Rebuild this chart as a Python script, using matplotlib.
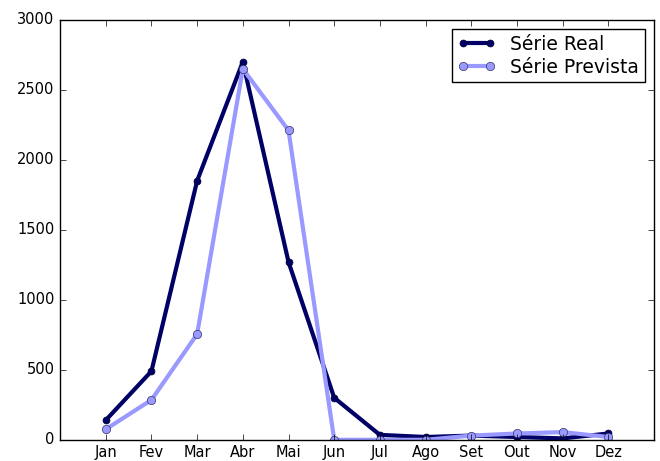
import matplotlib
matplotlib.use('Agg')
import matplotlib.pyplot as plt

plt.style.use('classic')

meses = ['Jan', 'Fev', 'Mar', 'Abr', 'Mai', 'Jun', 'Jul', 'Ago', 'Set', 'Out', 'Nov', 'Dez']
serie_real = [140, 490, 1850, 2700, 1270, 300, 35, 20, 30, 20, 10, 45]
serie_prevista = [75, 285, 755, 2650, 2210, 0, 0, 0, 30, 45, 55, 20]

x = list(range(len(meses)))

fig = plt.figure(figsize=(6.6, 4.61), dpi=100, facecolor='white')
ax = fig.add_axes([0.091, 0.046, 0.9, 0.911])

ax.plot(x, serie_real, color='#000066', linewidth=3, marker='o', markersize=5,
        markerfacecolor='#000066', markeredgecolor='#000033', label='Série Real')
ax.plot(x, serie_prevista, color='#9999ff', linewidth=3, marker='o', markersize=6,
        markerfacecolor='#9999ff', markeredgecolor='#333366', label='Série Prevista')

ax.set_xlim(-1, 12)
ax.set_ylim(0, 3000)
ax.set_xticks(x)
ax.set_xticklabels(meses)
ax.tick_params(labelsize=10.5)

ax.legend(loc='upper right', fontsize=13.5, numpoints=2, borderaxespad=0.5,
          labelspacing=0.2, borderpad=0.3)

fig.savefig('out.png', dpi=100, facecolor='white')
